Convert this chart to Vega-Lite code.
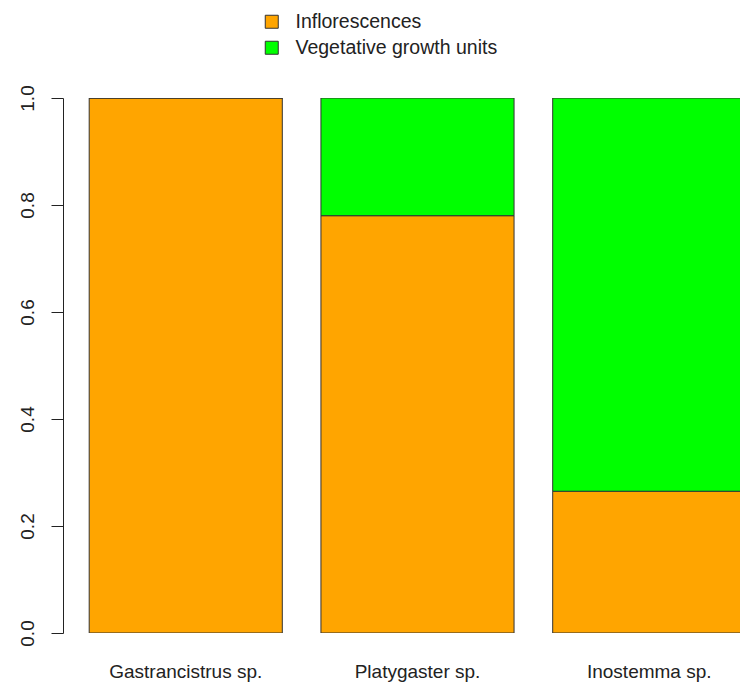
{
  "$schema": "https://vega.github.io/schema/vega-lite/v6.json",
  "width": 677,
  "height": 535,
  "autosize": {"type": "none"},
  "padding": {"left": 63, "top": 98, "right": 0, "bottom": 49},
  "background": "white",
  "config": {
    "view": {"stroke": null},
    "font": "Liberation Sans",
    "axis": {"grid": false, "labelFont": "Liberation Sans", "labelColor": "#222", "labelFontSize": 19}
  },
  "data": {
    "values": [
      {"species": "Gastrancistrus sp.", "type": "Inflorescences", "value": 1.0},
      {"species": "Gastrancistrus sp.", "type": "Vegetative growth units", "value": 0.0},
      {"species": "Platygaster sp.", "type": "Inflorescences", "value": 0.78},
      {"species": "Platygaster sp.", "type": "Vegetative growth units", "value": 0.22},
      {"species": "Inostemma sp.", "type": "Inflorescences", "value": 0.265},
      {"species": "Inostemma sp.", "type": "Vegetative growth units", "value": 0.735}
    ]
  },
  "mark": {"type": "bar", "stroke": "#333", "strokeWidth": 1, "opacity": 1, "clip": true},
  "encoding": {
    "x": {
      "field": "species",
      "type": "nominal",
      "sort": ["Gastrancistrus sp.", "Platygaster sp.", "Inostemma sp."],
      "scale": {"range": [0, 709], "paddingInner": 0.1667, "paddingOuter": 0.113},
      "axis": {"title": null, "domain": false, "ticks": false, "labelAngle": 0, "labelPadding": 29, "labelBaseline": "top"}
    },
    "y": {
      "field": "value",
      "type": "quantitative",
      "stack": "zero",
      "scale": {"domain": [0, 1], "nice": false},
      "axis": {
        "title": null,
        "values": [0, 0.2, 0.4, 0.6, 0.8, 1.0],
        "format": ".1f",
        "tickSize": 12,
        "tickColor": "#222",
        "domainColor": "#222",
        "labelAngle": -90,
        "labelAlign": "center",
        "labelBaseline": "alphabetic",
        "labelPadding": 18
      }
    },
    "color": {
      "field": "type",
      "type": "nominal",
      "scale": {"domain": ["Inflorescences", "Vegetative growth units"], "range": ["#FFA500", "#00FF00"]},
      "legend": {
        "title": null,
        "orient": "none",
        "legendX": 199,
        "legendY": -86,
        "direction": "vertical",
        "symbolType": "square",
        "symbolSize": 169,
        "symbolStrokeColor": "#333",
        "symbolStrokeWidth": 1,
        "symbolOpacity": 1,
        "labelFont": "Liberation Sans",
        "labelFontSize": 19.5,
        "labelColor": "#222",
        "labelOffset": 14,
        "labelLimit": 0,
        "rowPadding": 5,
        "padding": 0
      }
    },
    "order": {"field": "type", "sort": "ascending"}
  }
}
